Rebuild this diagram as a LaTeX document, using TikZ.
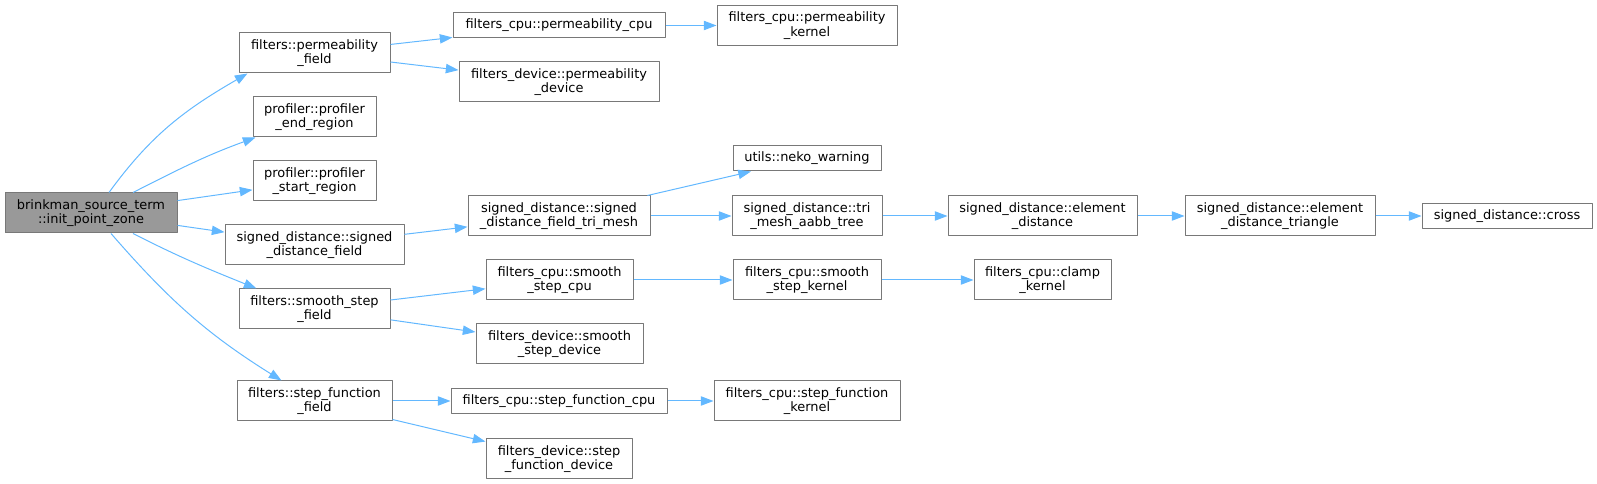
\documentclass[tikz,border=0pt]{standalone}
\usepackage{fontspec}
\setmainfont{DejaVu Sans}
\usetikzlibrary{arrows.meta}
\definecolor{nodegray}{HTML}{787878}
\definecolor{rootgray}{HTML}{999999}
\definecolor{callblue}{HTML}{63B8FF}
\begin{document}
\begin{tikzpicture}[x=0.75pt, y=-0.75pt, font=\fontsize{9.7}{11}\selectfont, line join=round,
	fn/.style={draw=nodegray, line width=0.75pt, fill=white, align=center, inner sep=0pt, minimum height=30pt},
	fnone/.style={fn, minimum height=18.75pt}, boxw/.style={minimum width=#1*0.75pt},
	call/.style={draw=callblue, line width=0.75pt, -{Triangle[length=9.5pt, width=7pt]}}]
	\useasboundingbox (0,0) rectangle (1597,484);
	% first level
	\node[fn, fill=rootgray, boxw=172] (root) at (91,213) {brinkman\_source\_term\\::init\_point\_zone};
	\node[fn, boxw=151] (permfield) at (314.5,53) {filters::permeability\\\_field};
	\node[fn, boxw=123] (profend) at (314.5,117) {profiler::profiler\\\_end\_region};
	\node[fn, boxw=123] (profstart) at (314.5,181) {profiler::profiler\\\_start\_region};
	\node[fn, boxw=179] (sdfield) at (314.5,245) {signed\_distance::signed\\\_distance\_field};
	\node[fn, boxw=151] (smoothfield) at (314.5,309) {filters::smooth\_step\\\_field};
	\node[fn, boxw=155] (stepfield) at (314.5,401) {filters::step\_function\\\_field};
	% second level
	\node[fnone, boxw=212] (permcpu) at (559,25.5) {filters\_cpu::permeability\_cpu};
	\node[fn, boxw=200] (permdevice) at (559,82) {filters\_device::permeability\\\_device};
	\node[fn, boxw=182] (sdftri) at (559,216) {signed\_distance::signed\\\_distance\_field\_tri\_mesh};
	\node[fn, boxw=147] (smoothcpu) at (559.5,280) {filters\_cpu::smooth\\\_step\_cpu};
	\node[fn, boxw=167] (smoothdevice) at (559.5,344) {filters\_device::smooth\\\_step\_device};
	\node[fnone, boxw=216] (stepcpu) at (559,401) {filters\_cpu::step\_function\_cpu};
	\node[fn, boxw=146] (stepdevice) at (559,459) {filters\_device::step\\\_function\_device};
	% third level and on
	\node[fn, boxw=180] (permkernel) at (807,25.5) {filters\_cpu::permeability\\\_kernel};
	\node[fnone, boxw=148] (nekowarn) at (807,158.5) {utils::neko\_warning};
	\node[fn, boxw=150] (aabbtree) at (807,216) {signed\_distance::tri\\\_mesh\_aabb\_tree};
	\node[fn, boxw=148] (smoothkernel) at (807,280) {filters\_cpu::smooth\\\_step\_kernel};
	\node[fn, boxw=186] (stepkernel) at (807,401) {filters\_cpu::step\_function\\\_kernel};
	\node[fn, boxw=189] (elemdist) at (1042.5,216) {signed\_distance::element\\\_distance};
	\node[fn, boxw=137] (clampkernel) at (1042.5,280) {filters\_cpu::clamp\\\_kernel};
	\node[fn, boxw=190] (elemtri) at (1280,216) {signed\_distance::element\\\_distance\_triangle};
	\node[fnone, boxw=170] (sdcross) at (1507,216) {signed\_distance::cross};
	% calls
	\draw[call] ([xshift=13.5pt]root.north) to[out=54,in=210] ([xshift=6.75pt]permfield.south west);
	\draw[call] ([xshift=31.5pt]root.north) to[out=27,in=200] ([xshift=2.25pt]profend.south west);
	\draw[call] (root) -- (profstart);
	\draw[call] (root) -- (sdfield);
	\draw[call] ([xshift=31.5pt]root.south) to[out=-27,in=158] ([xshift=13.5pt]smoothfield.north west);
	\draw[call] ([xshift=15pt]root.south) to[out=-49,in=148] ([xshift=33.75pt]stepfield.north west);
	\draw[call] (permfield) -- (permcpu);
	\draw[call] (permfield) -- (permdevice);
	\draw[call] (permcpu) -- (permkernel);
	\draw[call] (sdfield) -- (sdftri);
	\draw[call] (sdftri) -- (nekowarn);
	\draw[call] (sdftri) -- (aabbtree);
	\draw[call] (aabbtree) -- (elemdist);
	\draw[call] (elemdist) -- (elemtri);
	\draw[call] (elemtri) -- (sdcross);
	\draw[call] (smoothfield) -- (smoothcpu);
	\draw[call] (smoothfield) -- (smoothdevice);
	\draw[call] (smoothcpu) -- (smoothkernel);
	\draw[call] (smoothkernel) -- (clampkernel);
	\draw[call] (stepfield) -- (stepcpu);
	\draw[call] (stepfield) -- (stepdevice);
	\draw[call] (stepcpu) -- (stepkernel);
\end{tikzpicture}
\end{document}
